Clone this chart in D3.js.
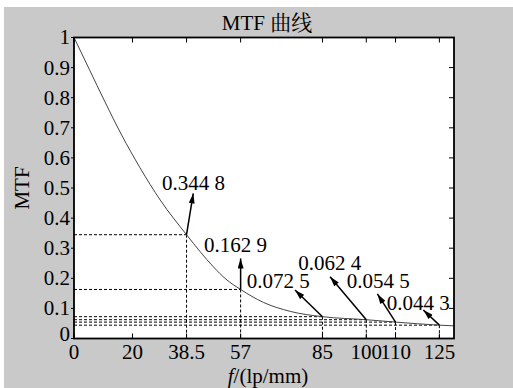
<!DOCTYPE html>
<html>
<head>
<meta charset="utf-8">
<script src="https://cdn.jsdelivr.net/npm/d3@7/dist/d3.min.js"></script>
<style>
  html, body { margin: 0; padding: 0; background: #fff; }
  svg { display: block; }
</style>
</head>
<body>
<div id="chart"></div>
<script>
// curve
var freq = [0, 5.2, 10.6, 16.3, 22.6, 29.5, 38.5, 43.2, 47.7, 52, 57, 64.8, 74, 85, 100, 110, 125, 130];
var mtf  = [1, 0.895, 0.786, 0.676, 0.567, 0.46, 0.3448, 0.288, 0.238, 0.197, 0.1629, 0.12, 0.09, 0.0725, 0.0624, 0.0545, 0.0443, 0.042];

// marked points and their annotations
var markF    = [38.5, 57, 85, 100, 110, 125];
var markV    = [0.3448, 0.1629, 0.0725, 0.0624, 0.0545, 0.0443];
var markText = ['0.344 8', '0.162 9', '0.072 5', '0.062 4', '0.054 5', '0.044 3'];
var tipF     = [40.8, 57, 75.6, 87.6, 103.8, 119.5];
var tipV     = [0.482, 0.266, 0.161, 0.205, 0.148, 0.0947];
var labelF   = [30.1, 44.5, 59.1, 76.7, 93.3, 107];
var labelV   = [0.492, 0.287, 0.167, 0.228, 0.167, 0.0947];

var xTicks = [0, 20, 38.5, 57, 85, 100, 110, 125];
var yTicks = [0, 0.1, 0.2, 0.3, 0.4, 0.5, 0.6, 0.7, 0.8, 0.9, 1];

var W = 513, H = 388;
var FONT = '"Liberation Serif", "Times New Roman", "Noto Serif CJK SC", "Noto Sans CJK SC", serif';
var FS = 21;
var L = 74, R = 454, T = 37.5, B = 338.5;

var svg = d3.select('#chart').append('svg').attr('width', W).attr('height', H);
svg.append('rect').attr('width', W).attr('height', H).attr('fill', '#fff');
svg.append('rect').attr('x', 4).attr('y', 7).attr('width', W - 4).attr('height', H - 7).attr('fill', '#c9c9c9');
svg.append('rect').attr('x', L).attr('y', T).attr('width', R - L).attr('height', B - T).attr('fill', '#fff');

var x = d3.scaleLinear().domain([0, 130]).range([L, R]);
var y = d3.scaleLinear().domain([0, 1]).range([B, T]);

var defs = svg.append('defs');
defs.append('marker').attr('id', 'ah')
    .attr('viewBox', '0 0 10 6').attr('refX', 10).attr('refY', 3)
    .attr('markerWidth', 11).attr('markerHeight', 6)
    .attr('markerUnits', 'userSpaceOnUse').attr('orient', 'auto')
  .append('path').attr('d', 'M0,0 L10,3 L0,6 Z').attr('fill', '#000');

// dashed guides
var guides = svg.append('g').attr('stroke', '#000').attr('stroke-width', 1).attr('stroke-dasharray', '3,2').attr('fill', 'none');
markF.forEach(function(f, i){
    guides.append('line').attr('x1', x(0)).attr('x2', x(f)).attr('y1', y(markV[i])).attr('y2', y(markV[i]));
    guides.append('line').attr('x1', x(f)).attr('x2', x(f)).attr('y1', y(markV[i])).attr('y2', y(0));
});

// curve
var line = d3.line().x(function(d){ return x(d[0]); }).y(function(d){ return y(d[1]); }).curve(d3.curveMonotoneX);
svg.append('path').datum(d3.zip(freq, mtf)).attr('d', line)
    .attr('fill', 'none').attr('stroke', '#444').attr('stroke-width', 1);

// arrows + labels
markF.forEach(function(f, i){
    svg.append('line').attr('x1', x(f)).attr('y1', y(markV[i]))
        .attr('x2', x(tipF[i])).attr('y2', y(tipV[i]))
        .attr('stroke', '#000').attr('stroke-width', 1.5).attr('marker-end', 'url(#ah)');
    svg.append('text').attr('x', x(labelF[i])).attr('y', y(labelV[i]))
        .attr('font-family', FONT).attr('font-size', FS).attr('fill', '#000')
        .text(markText[i]);
});

// axes (MATLAB-like box with ticks)
var ax = svg.append('g').attr('stroke', '#000').attr('stroke-width', 1);
xTicks.forEach(function(t){
    ax.append('line').attr('x1', x(t)).attr('x2', x(t)).attr('y1', B).attr('y2', B - 5);
    ax.append('line').attr('x1', x(t)).attr('x2', x(t)).attr('y1', T).attr('y2', T + 5);
});
yTicks.forEach(function(t){
    ax.append('line').attr('x1', L - 3).attr('x2', L).attr('y1', y(t)).attr('y2', y(t));
    ax.append('line').attr('x1', R).attr('x2', R - 5).attr('y1', y(t)).attr('y2', y(t));
});
svg.append('rect').attr('x', L).attr('y', T).attr('width', R - L).attr('height', B - T)
    .attr('fill', 'none').attr('stroke', '#000').attr('stroke-width', 1.8);

var tx = svg.append('g').attr('font-family', FONT).attr('font-size', FS).attr('fill', '#000');
xTicks.forEach(function(t){
    tx.append('text').attr('x', x(t)).attr('y', 359).attr('text-anchor', 'middle').text(d3.format('~g')(t));
});
yTicks.forEach(function(t){
    tx.append('text').attr('x', L - 4).attr('y', y(t)).attr('dy', t === 0 ? '0.1em' : '0.33em').attr('text-anchor', 'end')
        .text(d3.format('~g')(t));
});

// title and axis names
tx.append('text').attr('x', (L + R) / 2 + 3).attr('y', 30).attr('text-anchor', 'middle').text('MTF 曲线');
var xl = tx.append('text').attr('x', (L + R) / 2 + 4).attr('y', 383).attr('text-anchor', 'middle');
xl.append('tspan').attr('font-style', 'italic').text('f');
xl.append('tspan').text('/(lp/mm)');
tx.append('text').attr('transform', 'translate(29,' + ((T + B) / 2) + ') rotate(-90)')
    .attr('text-anchor', 'middle').text('MTF');
</script>
</body>
</html>
